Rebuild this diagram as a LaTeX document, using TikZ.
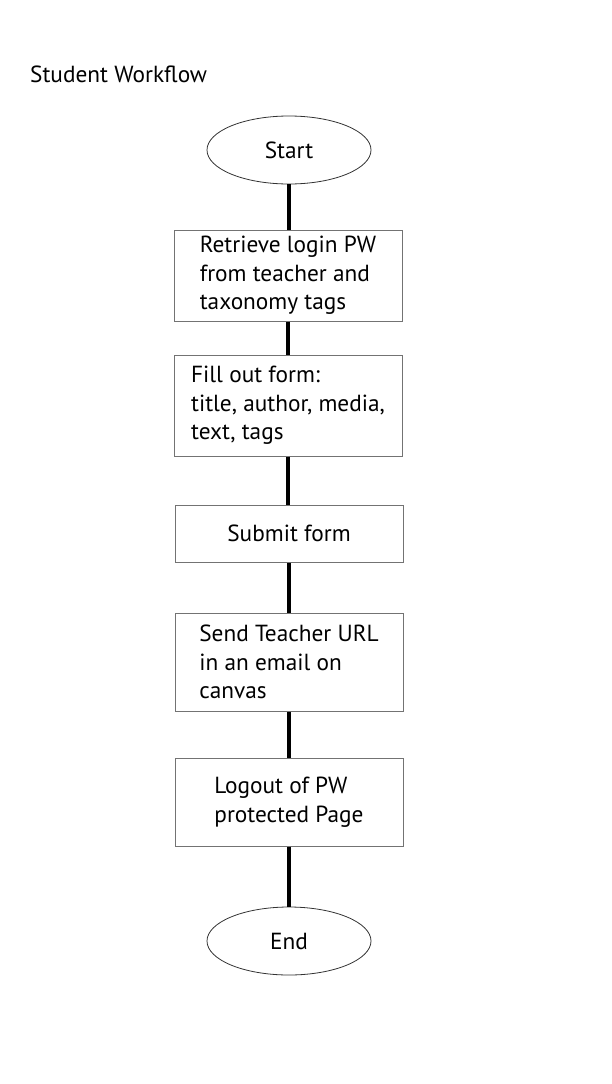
\documentclass[tikz,border=0pt]{standalone}
\usepackage{fontspec}
\setmainfont{PT Sans}
\usetikzlibrary{shapes.geometric}
\usetikzlibrary{positioning}

\begin{document}
\begin{tikzpicture}[x=1pt, y=-1pt, font=\fontsize{23.3}{28.5}\selectfont]
\tikzstyle{terminal} = [ellipse, minimum width=164pt, minimum height=68pt, text centered, draw=black!80, line width=0.8pt]
\tikzstyle{stepbox} = [rectangle, minimum width=228pt, align=left, draw=black!55, line width=1pt]
\tikzstyle{link} = [line width=4pt, black]

\useasboundingbox (0,0) rectangle (612,1084);

% Title
\node (title) [anchor=west, inner sep=0pt] at (30,74) {Student Workflow};

% Start and end
\node (start) [terminal] at (289,150) {Start};
\node (stop) [terminal] at (289,941) {End};

% Steps
\node (login) [stepbox, minimum height=91pt] at (288,275.5) {Retrieve login PW\\from teacher and\\taxonomy tags};
\node (form) [stepbox, minimum height=101pt] at (288,405.5) {Fill out form:\\title, author, media,\\text, tags};
\node (submit) [stepbox, minimum height=57pt] at (289,533.5) {Submit form};
\node (mail) [stepbox, minimum height=98pt] at (289,662) {Send Teacher URL\\in an email on\\canvas};
\node (logout) [stepbox, minimum height=88pt] at (289,802) {Logout of PW\\protected Page};

% Draws
\draw [link] (start) -- (start |- login.north);
\draw [link] (login) -- (login |- form.north);
\draw [link] (form) -- (form |- submit.north);
\draw [link] (submit) -- (mail);
\draw [link] (mail) -- (logout);
\draw [link] (logout) -- (stop);
\end{tikzpicture}
\end{document}
